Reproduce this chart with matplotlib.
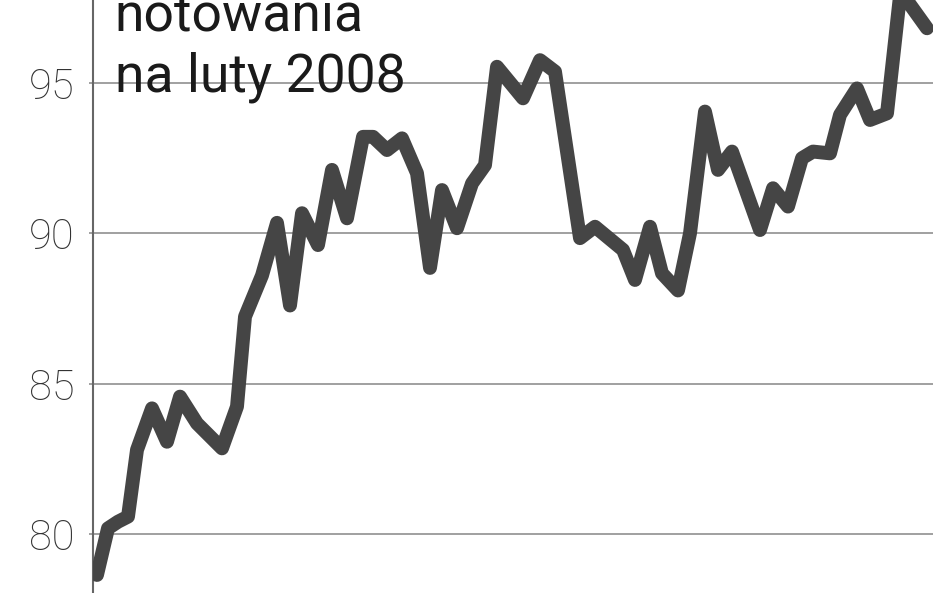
import matplotlib
matplotlib.use('Agg')
import matplotlib.pyplot as plt

# notowania - sesje (pozycja) i wartości
sesje = [0.4, 1.5, 2.5, 3.5, 4.4, 5.9, 7.4, 8.7, 10.4, 12.9, 14.4, 15.2, 16.9, 18.4,
         19.7, 20.9, 22.5, 23.9, 25.4, 27.0, 28.0, 29.4, 30.9, 32.4, 33.7, 34.9,
         36.4, 37.9, 39.2, 40.4, 43.0, 44.7, 46.2, 48.7, 50.2, 52.2, 53.0, 54.2,
         55.7, 56.9, 58.5, 59.7, 61.2, 62.5, 63.9, 66.7, 68.0, 69.5, 70.9, 72.0,
         73.7, 74.7, 76.4, 77.7, 79.4, 80.7, 81.5, 83.4]
kurs = [78.64, 80.19, 80.41, 80.58, 82.80, 84.18, 83.07, 84.57, 83.68, 82.85,
        84.24, 87.23, 88.6, 90.35, 87.6, 90.67, 89.61, 92.11, 90.50, 93.21,
        93.21, 92.77, 93.16, 92.0, 88.85, 91.44, 90.17, 91.66, 92.27, 95.54,
        94.49, 95.76, 95.38, 89.84, 90.22, 89.67, 89.45, 88.45, 90.22, 88.67,
        88.1, 90.0, 94.05, 92.11, 92.72, 90.11, 91.5, 90.89, 92.50, 92.72,
        92.66, 93.94, 94.82, 93.77, 93.99, 97.9, 97.7, 96.82]

y_ticks = [80, 85, 90, 95]

fig = plt.figure(figsize=(9.48, 5.93), dpi=100)
ax = fig.add_axes([93 / 948, 0, (933 - 93) / 948, 1])

ax.plot(sesje, kurs, color='#454545', linewidth=10,
        solid_capstyle='round', solid_joinstyle='round', zorder=3)

ax.set_xlim(0, 84)
ax.set_ylim(78.04, 97.76)
ax.set_yticks(y_ticks)
ax.set_yticklabels([str(t) for t in y_ticks], fontsize=30, color='#333333',
                   fontfamily='Roboto', fontweight='light')
ax.tick_params(axis='y', length=3, width=1.3, color='#999999', pad=10.4)
ax.set_xticks([])
ax.grid(axis='y', color='#a0a0a0', linewidth=1.4, zorder=1)

for side in ['top', 'right', 'bottom']:
    ax.spines[side].set_visible(False)
ax.spines['left'].set_color('#666666')
ax.spines['left'].set_linewidth(1.5)

# tytuł w dwóch liniach
ax.text(0.026, 1 - 32 / 593, 'notowania', transform=ax.transAxes,
        fontsize=38.5, fontfamily='Roboto', color='#1a1a1a', va='baseline', zorder=4)
ax.text(0.026, 1 - 92 / 593, 'na luty 2008', transform=ax.transAxes,
        fontsize=38.5, fontfamily='Roboto', color='#1a1a1a', va='baseline', zorder=4)

plt.savefig('out.png', dpi=100)
